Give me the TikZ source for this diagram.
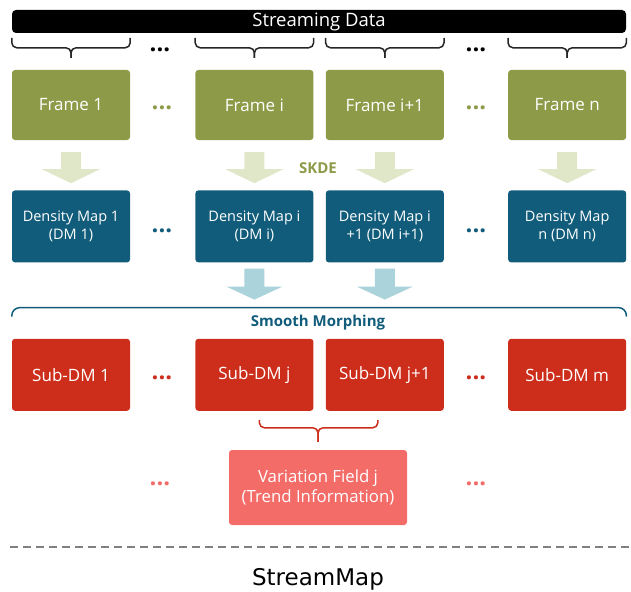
\documentclass[tikz,border=0pt]{standalone}
\usepackage{fontspec}
\setmainfont{Open Sans}
\newfontfamily\titlefont{DejaVu Sans}
\usetikzlibrary{shapes,arrows,positioning}
\definecolor{frgreen}{HTML}{8D9B48}
\definecolor{skdepale}{HTML}{E0E7C8}
\definecolor{dmteal}{HTML}{115C7A}
\definecolor{morphblue}{HTML}{ABD3DB}
\definecolor{subred}{HTML}{CC2E1B}
\definecolor{vfpink}{HTML}{F36C68}
\tikzstyle{bar} = [rectangle,rounded corners=4pt,fill=black,text=white,minimum width=614pt,minimum height=23pt,inner sep=0,font=\fontsize{18.5}{18.5}\selectfont]
\tikzstyle{framebox} = [rectangle,rounded corners=3pt,fill=frgreen,text=white,minimum width=118pt,minimum height=70pt,inner sep=0,font=\fontsize{17}{20}\selectfont]
\tikzstyle{dmbox} = [framebox,fill=dmteal,minimum height=72pt,align=center,font=\fontsize{14.5}{18}\selectfont]
\tikzstyle{subbox} = [framebox,fill=subred,minimum height=72pt]
\tikzstyle{vfbox} = [framebox,fill=vfpink,minimum width=178pt,minimum height=75pt,align=center,font=\fontsize{16.8}{20}\selectfont]
\tikzstyle{more} = [anchor=base,inner sep=0,font=\fontsize{24}{24}\selectfont\bfseries]
\tikzstyle{lab} = [inner sep=0,font=\fontsize{15}{15}\selectfont\bfseries]
\tikzstyle{brc} = [draw=black!85,line width=1.5pt,rounded corners=5pt]

\begin{document}
\begin{tikzpicture}[x=1pt,y=-1pt,node distance=50pt]
      \useasboundingbox (0,0) rectangle (631,591);
      \node[bar] (sd) at (319,21.5) {Streaming Data};
      \node[framebox] (f1) at (71,105) {Frame 1};
      \node[framebox,right=65pt of f1] (fi) {Frame i};
      \node[framebox,right=12pt of fi] (fi1) {Frame i+1};
      \node[framebox,right=64pt of fi1] (fn) {Frame n};
      \node[dmbox,below=of f1] (d1) {Density Map 1\\(DM 1)};
      \node[dmbox,below=of fi] (di) {Density Map i\\(DM i)};
      \node[dmbox,below=of fi1] (di1) {Density Map i\\+1 (DM i+1)};
      \node[dmbox,below=of fn] (dn) {Density Map\\n (DM n)};
      \node[subbox,below=76pt of d1] (s1) {Sub-DM 1};
      \node[subbox,below=76pt of di] (sj) {Sub-DM j};
      \node[subbox,below=76pt of di1] (sj1) {Sub-DM j+1};
      \node[subbox,below=76pt of dn] (sm) {Sub-DM m};
      \node[vfbox] (vf) at (318,487.5) {Variation Field j\\(Trend Information)};
      \node[more] (k1) at (160,52) {...};
      \node[more] (k2) at (476,52) {...};
      \node[more,text=frgreen] (g1) at (162,110) {...};
      \node[more,text=frgreen] (g2) at (476,110) {...};
      \node[more,text=dmteal] (t1) at (162,232) {...};
      \node[more,text=dmteal] (t2) at (476,232) {...};
      \node[more,text=subred] (r1) at (162,379) {...};
      \node[more,text=subred] (r2) at (476,379) {...};
      \node[more,text=vfpink] (p1) at (160,485) {...};
      \node[more,text=vfpink] (p2) at (476,485) {...};
      \node[lab,text=frgreen] (skde) at (318,168) {SKDE};
      \node[lab,text=dmteal] (morph) at (318,323) {Smooth Morphing};
      \foreach \n in {f1,fi,fi1,fn} {
        \draw[brc] ([yshift=32pt]\n.north west) |- ([yshift=22pt]\n.north) -- ([yshift=12pt]\n.north);
        \draw[brc] ([yshift=32pt]\n.north east) |- ([yshift=22pt]\n.north) -- ([yshift=12pt]\n.north);
        \fill[skdepale] ([xshift=-10pt,yshift=-12pt]\n.south) -- ++(20,0) -- ++(0,17) -- ++(19,0) -- ++(-29,14) -- ++(-29,-14) -- ++(19,0) -- cycle;
      }
      \foreach \n in {di,di1}
        \fill[morphblue] ([xshift=-10pt,yshift=-6pt]\n.south) -- ++(20,0) -- ++(0,18) -- ++(18,0) -- ++(-28,13) -- ++(-28,-13) -- ++(18,0) -- cycle;
      \draw[brc,draw=dmteal,rounded corners=8pt] ([yshift=22pt]s1.north west) |- ([yshift=31pt]sm.north east) -- ([yshift=22pt]sm.north east);
      \draw[brc,draw=subred] ([xshift=5pt,yshift=-9pt]sj.south) |- ([yshift=22pt]vf.north) -- ([yshift=8pt]vf.north);
      \draw[brc,draw=subred] ([xshift=-7pt,yshift=-9pt]sj1.south) |- ([yshift=22pt]vf.north) -- ([yshift=8pt]vf.north);
      \coordinate (cutl) at (10,547);
      \coordinate (cutr) at (631,547);
      \draw[black!50,line width=2pt,dash pattern=on 8pt off 5pt] (cutl) -- (cutr);
      \node (title) at (318,579) {\titlefont\fontsize{23}{23}\selectfont StreamMap};
    \end{tikzpicture}
\end{document}
